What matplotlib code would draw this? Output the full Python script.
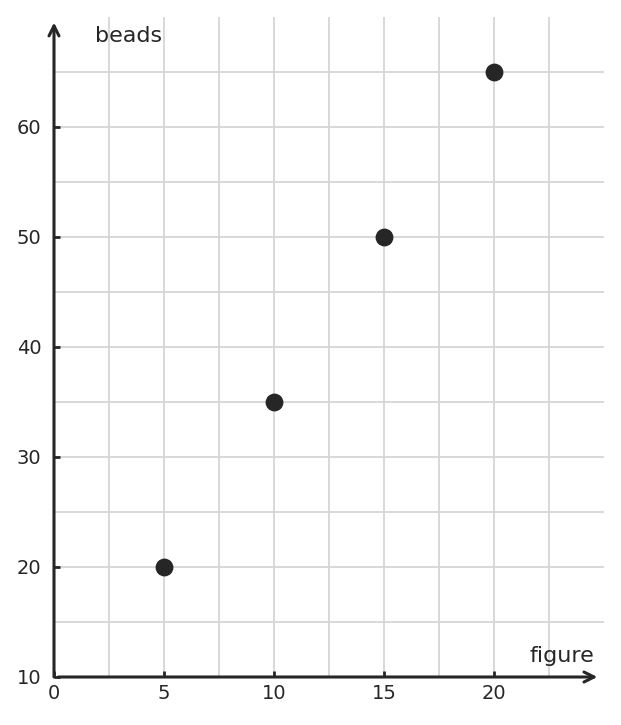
"""
Scatter of beads per figure, drawn with arrow-headed axes.
"""

import matplotlib
matplotlib.use("Agg")
import matplotlib.pyplot as plt

figure_no = [5, 10, 15, 20]
beads = [20, 35, 50, 65]

x_ticks = [0, 5, 10, 15, 20]
y_ticks = [10, 20, 30, 40, 50, 60]

INK = "#262626"
GRID = "#d6d6d6"


def main() -> None:
    fig = plt.figure(figsize=(6.21, 7.25), dpi=100)
    ax = fig.add_axes([54 / 621, 48 / 725, 550 / 621, 660 / 725])

    ax.set_xlim(0, 25)
    ax.set_ylim(10, 70)

    # light grid every half step (no line on the far edges)
    for gx in [2.5 * i for i in range(1, 10)]:
        ax.axvline(gx, color=GRID, linewidth=1.3, zorder=0)
    for gy in [10 + 5 * i for i in range(1, 12)]:
        ax.axhline(gy, color=GRID, linewidth=1.3, zorder=0)

    for s in ax.spines.values():
        s.set_visible(False)

    # arrow axes
    ax.annotate("", xy=(24.7, 10), xytext=(0.2, 10),
                arrowprops=dict(arrowstyle="->", color=INK, lw=2.2,
                                mutation_scale=18, shrinkA=0, shrinkB=0),
                annotation_clip=False)
    ax.annotate("", xy=(0, 69.5), xytext=(0, 10),
                arrowprops=dict(arrowstyle="->", color=INK, lw=2.2,
                                mutation_scale=18, shrinkA=0, shrinkB=0),
                annotation_clip=False)

    ax.set_xticks(x_ticks)
    ax.set_yticks(y_ticks)
    ax.tick_params(axis="both", direction="in", length=4, width=2,
                   color=INK, labelcolor=INK, labelsize=14)
    ax.tick_params(axis="y", pad=9)
    ax.tick_params(axis="x", pad=5)

    ax.scatter(figure_no, beads, s=140, color=INK, zorder=3,
               clip_on=False)

    ax.text(1.85, 68.3, "beads", fontsize=16, color=INK,
            ha="left", va="center")
    ax.text(24.55, 11.9, "figure", fontsize=16, color=INK,
            ha="right", va="center")

    fig.savefig("out.png", dpi=100)
    plt.close(fig)


if __name__ == "__main__":
    main()
